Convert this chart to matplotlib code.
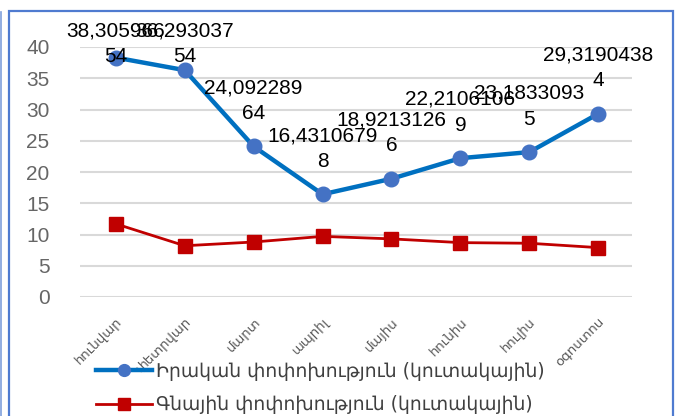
import matplotlib
matplotlib.use("Agg")
import matplotlib.pyplot as plt
from matplotlib.patches import Rectangle
from matplotlib.lines import Line2D

months = ["հունվար", "փետրվար", "մարտ", "ապրիլ", "մայիս", "հունիս", "հուլիս", "օգոստոս"]
real_change = [38.305966, 36.293037, 24.092289, 16.4310679, 18.9213126, 22.2106106, 23.1833093, 29.3190438]
real_labels = ["38,305966\n54", "36,293037\n54", "24,092289\n64", "16,4310679\n8",
               "18,9213126\n6", "22,2106106\n9", "23,1833093\n5", "29,3190438\n4"]
price_change = [11.7, 8.2, 8.8, 9.7, 9.3, 8.7, 8.6, 7.9]
series_names = ["Իրական փոփոխություն (կուտակային)", "Գնային փոփոխություն (կուտակային)"]

W, H = 682, 416
fig = plt.figure(figsize=(W / 100, H / 100), dpi=100)
ax = fig.add_axes([80 / W, (H - 297) / H, 552 / W, 250 / H])

num_font = ["Liberation Sans", "DejaVu Sans"]
arm_font = ["DejaVu Sans"]

x = list(range(len(months)))
ax.plot(x, real_change, color="#0070C0", lw=3.2, marker="o", ms=10.5,
        mfc="#4472C4", mec="#4472C4", zorder=4, label=series_names[0])
ax.plot(x, price_change, color="#C00000", lw=2.0, marker="s", ms=9.5,
        mfc="#C00000", mec="#C00000", zorder=4, label=series_names[1])

ax.set_xlim(-0.52, 7.49)
ax.set_ylim(0, 40)
ax.set_yticks(range(0, 41, 5))
ax.yaxis.grid(True, color="#D9D9D9", lw=1.5)
ax.set_axisbelow(True)
for s in ax.spines.values():
    s.set_visible(False)
ax.tick_params(length=0)
ax.tick_params(axis="y", pad=22, labelcolor="#666666")
for t in ax.get_yticklabels():
    t.set_family(num_font)
    t.set_fontsize(15)

ax.set_xticks(x)
ax.set_xticklabels(months, rotation=45, ha="right", va="top", rotation_mode="anchor",
                   family=arm_font, fontsize=9.5, color="#595959")
ax.tick_params(axis="x", pad=13)

# data labels
for i, (v, lab) in enumerate(zip(real_change, real_labels)):
    if i < 2:
        ax.annotate(lab, xy=(i, v), xytext=(i, H - 44), textcoords=("data", "figure pixels"),
                    ha="center", va="center", family=num_font, fontsize=15,
                    linespacing=1.45, color="#000000", zorder=5, annotation_clip=False)
    else:
        ax.annotate(lab, xy=(i, v), xytext=(0, 33), textcoords="offset points",
                    ha="center", va="center", family=num_font, fontsize=15,
                    linespacing=1.45, color="#000000", zorder=5)

handles = [Line2D([], [], color="#0070C0", lw=3.2, marker="o", ms=8.5, mfc="#4472C4", mec="#4472C4"),
           Line2D([], [], color="#C00000", lw=2.0, marker="s", ms=8, mfc="#C00000", mec="#C00000")]
fig.legend(handles, series_names, loc="upper left", bbox_to_anchor=(96 / W, (H - 362) / H),
           frameon=False, borderpad=0, borderaxespad=0, handlelength=3.0, handletextpad=0.2,
           labelspacing=0.75, prop={"family": arm_font, "size": 13.5}, labelcolor="#404040")

# chart border
fig.patches.append(Rectangle((8.5 / W, -0.1), (673 - 8.5) / W, (H - 11) / H + 0.1,
                             transform=fig.transFigure, fill=False, ec="#4F7BD0", lw=1.6))
fig.lines.append(Line2D([1 / W, 1 / W], [0, (H - 12) / H], transform=fig.transFigure,
                        color="#7FA0DC", lw=1.2))

fig.savefig("out.png", dpi=100)
